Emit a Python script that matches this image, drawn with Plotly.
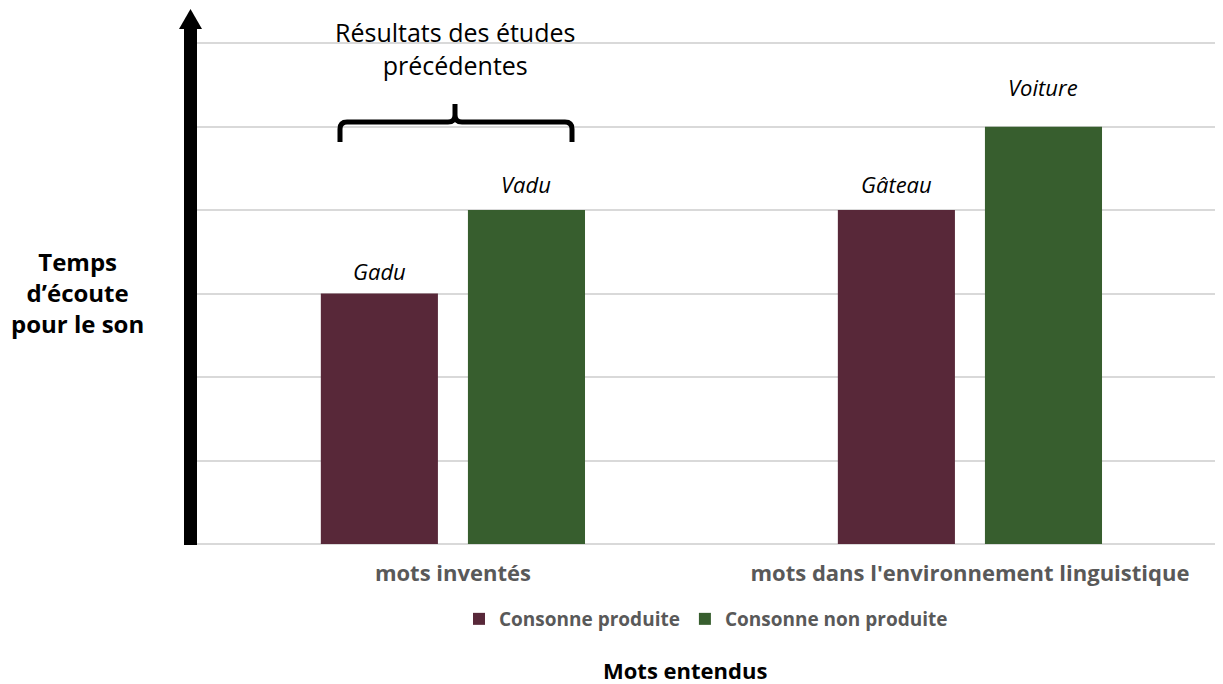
import plotly.graph_objects as go

categories = ["mots inventés", "mots dans l'environnement linguistique"]
series_names = ["Consonne produite", "Consonne non produite"]
produite = [3, 4]
non_produite = [4, 5]
bar_labels = [["Gadu", "Gâteau"], ["Vadu", "Voiture"]]
colors = ["#582839", "#375E2E"]

W, H = 1223, 684
L, R, T, B = 197, 1215, 39, 544
YMAX = 6.05
BARGAP, GROUPGAP = 0.431, 0.204
FONT = "Open Sans"


def px(x):
    return (x - L) / (R - L)


def py(y):
    return (B - y) / (B - T)


fig = go.Figure()
for name, vals, col in zip(series_names, [produite, non_produite], colors):
    fig.add_trace(go.Bar(x=categories, y=vals, name=name, marker=dict(color=col, line=dict(width=0))))

# italic labels above bars
offset = (1 - BARGAP) / 4
yshifts = [[23, 26], [26, 40]]
for s, vals in enumerate([produite, non_produite]):
    for i, v in enumerate(vals):
        fig.add_annotation(x=i + (2 * s - 1) * offset, y=v, xref="x", yref="y",
                           text=bar_labels[s][i], showarrow=False, yshift=yshifts[s][i],
                           xanchor="center", yanchor="middle",
                           font=dict(family=FONT, size=22, color="#000000", style="italic"))

# y axis arrow (shaft + head)
fig.add_shape(type="rect", xref="paper", yref="paper", x0=px(184), x1=px(197), y0=py(545), y1=py(28),
              fillcolor="black", line=dict(width=0), layer="above")
fig.add_shape(type="path", xref="paper", yref="paper",
              path=f"M {px(179)},{py(29)} L {px(202)},{py(29)} L {px(190.5)},{py(9)} Z",
              fillcolor="black", line=dict(width=0), layer="above")

# brace
x1, x2, xm = 340, 572, 455
ymid, ylow, ytop, r = 122, 142, 104, 7
p = (f"M {px(x1)},{py(ylow)} L {px(x1)},{py(ymid + r)} Q {px(x1)},{py(ymid)} {px(x1 + r)},{py(ymid)} "
     f"L {px(xm - r)},{py(ymid)} Q {px(xm)},{py(ymid)} {px(xm)},{py(ymid - r)} L {px(xm)},{py(ytop)} "
     f"M {px(xm)},{py(ymid - r)} Q {px(xm)},{py(ymid)} {px(xm + r)},{py(ymid)} "
     f"L {px(x2 - r)},{py(ymid)} Q {px(x2)},{py(ymid)} {px(x2)},{py(ymid + r)} L {px(x2)},{py(ylow)}")
fig.add_shape(type="path", xref="paper", yref="paper", path=p, line=dict(color="black", width=5))

fig.add_annotation(x=px(455), y=py(48), xref="paper", yref="paper", showarrow=False,
                   text="Résultats des études<br>précédentes", align="center",
                   xanchor="center", yanchor="middle",
                   font=dict(family=FONT, size=25, color="#000000"))
fig.add_annotation(x=px(77), y=py(292), xref="paper", yref="paper", showarrow=False,
                   text="<b>Temps<br>d’écoute<br>pour le son</b>", align="center",
                   xanchor="center", yanchor="middle",
                   font=dict(family=FONT, size=24, color="#000000"))
fig.add_annotation(x=px(685), y=py(670), xref="paper", yref="paper", showarrow=False,
                   text="<b>Mots entendus</b>", align="center",
                   xanchor="center", yanchor="middle",
                   font=dict(family=FONT, size=22, color="#000000"))

fig.update_layout(
    width=W, height=H,
    margin=dict(l=L, r=W - R, t=T, b=H - B),
    paper_bgcolor="white", plot_bgcolor="white",
    barmode="group", bargap=BARGAP, bargroupgap=GROUPGAP,
    showlegend=True,
    legend=dict(orientation="h", x=px(706), y=py(619), xanchor="center", yanchor="middle",
                font=dict(family=FONT, size=19, color="#595959", weight="bold"),
                itemwidth=30, tracegroupgap=0),
    xaxis=dict(type="category", range=[-0.495, 1.474], showgrid=False, showline=False, zeroline=False,
               ticks="", ticklabelstandoff=14,
               tickfont=dict(family=FONT, size=22, color="#595959", weight="bold")),
    yaxis=dict(range=[0, YMAX], dtick=1, showticklabels=False, showgrid=True, gridcolor="#D9D9D9",
               gridwidth=1.5, zeroline=True, zerolinecolor="#D9D9D9", zerolinewidth=2, showline=False),
)

fig.write_html("out.html")
